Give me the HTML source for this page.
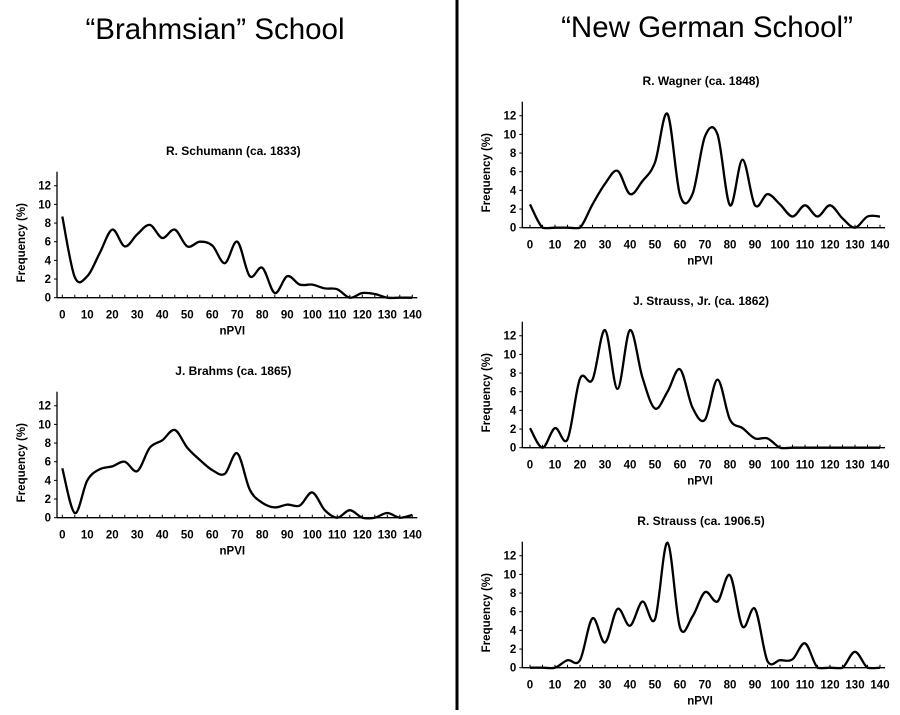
<!DOCTYPE html>
<html><head><meta charset="utf-8"><style>
html,body{margin:0;padding:0;background:#fff;}
svg text{font-family:"Liberation Sans",Arial,sans-serif;fill:#000;}
</style></head><body>
<svg id="s" width="900" height="710" xmlns="http://www.w3.org/2000/svg">
<rect width="900" height="710" fill="#fff"/>
<line x1="457" y1="0" x2="457" y2="710" stroke="#000" stroke-width="3"/>
<text x="215" y="39" font-size="29.5" text-anchor="middle">“Brahmsian” School</text>
<text x="707" y="37" font-size="29.5" text-anchor="middle">“New German School”</text>
</svg>
<script>
const svg=document.getElementById('s');
const NS='http://www.w3.org/2000/svg';
function el(t,a,txt){const e=document.createElementNS(NS,t);for(const k in a)e.setAttribute(k,a[k]);if(txt!==undefined)e.textContent=txt;svg.appendChild(e);return e;}
function chart(ax,x0,zy,title,ty,ylx,data){
  const sx=2.5, sy=9.33;
  const X=v=>x0+v*sx, Y=v=>zy-v*sy;
  el('text',{x:X(70)-4,y:ty,'font-size':12,'font-weight':'bold','text-anchor':'middle'},title);
  el('line',{x1:ax,y1:zy-126,x2:ax,y2:zy,stroke:'#000','stroke-width':1.3});
  el('line',{x1:ax,y1:zy,x2:X(142),y2:zy,stroke:'#000','stroke-width':1.3});
  for(let v=0;v<=12;v+=2){
    el('line',{x1:ax-3,y1:Y(v),x2:ax,y2:Y(v),stroke:'#000','stroke-width':1});
    el('text',{x:ax-6,y:Y(v)+4,'font-size':11.5,'font-weight':'bold','text-anchor':'end'},v);
  }
  for(let v=0;v<=140;v+=5){
    el('line',{x1:X(v),y1:zy,x2:X(v),y2:zy-3,stroke:'#000','stroke-width':1});
  }
  for(let v=0;v<=140;v+=10){
    el('text',{x:X(v),y:zy+21,'font-size':11.5,'font-weight':'bold','text-anchor':'middle'},v);
  }
  el('text',{x:X(70)-5,y:zy+37,'font-size':11.5,'font-weight':'bold','text-anchor':'middle'},'nPVI');
  el('text',{x:ylx,y:zy-55,'font-size':11.5,'font-weight':'bold','text-anchor':'middle',transform:`rotate(-90 ${ylx} ${zy-55})`},'Frequency (%)');
  const p=data.map((v,i)=>[X(i*5),Y(v)]);
  let d=`M${p[0][0]},${p[0][1]}`;
  for(let i=0;i<p.length-1;i++){
    const a=p[Math.max(i-1,0)],b=p[i],c=p[i+1],e=p[Math.min(i+2,p.length-1)];
    const c1=[b[0]+(c[0]-a[0])/6,b[1]+(c[1]-a[1])/6],c2=[c[0]-(e[0]-b[0])/6,c[1]-(e[1]-b[1])/6];
    d+=` C${c1[0].toFixed(1)},${Math.min(c1[1],zy+1).toFixed(1)} ${c2[0].toFixed(1)},${Math.min(c2[1],zy+1).toFixed(1)} ${c[0].toFixed(1)},${c[1].toFixed(1)}`;
  }
  el('path',{d:d,fill:'none',stroke:'#000','stroke-width':2.3,'stroke-linejoin':'round'});
}
chart(57,62.3,297.7,'R. Schumann (ca. 1833)',155,25,
[8.7,2.2,2.3,4.8,7.3,5.5,6.8,7.8,6.4,7.3,5.5,6.0,5.6,3.7,6.0,2.3,3.2,0.5,2.3,1.4,1.4,1.0,0.9,0,0.5,0.4,0,0,0]);
chart(57,62.3,517.7,'J. Brahms (ca. 1865)',375,25,
[5.3,0.5,4,5.2,5.5,6,5,7.5,8.3,9.4,7.5,6.2,5.1,4.7,6.9,3,1.6,1.1,1.4,1.3,2.7,0.8,0,0.8,0,0,0.5,0,0.3]);
chart(522.3,530,227.7,'R. Wagner (ca. 1848)',85,490,
[2.5,0,0,0,0,2.5,4.7,6.1,3.6,5.0,7.0,12.2,3.5,3.6,9.8,10.0,2.4,7.3,2.4,3.6,2.5,1.2,2.4,1.2,2.4,1.0,0,1.2,1.2]);
chart(522.3,530,447.7,'J. Strauss, Jr. (ca. 1862)',305,490,
[2.1,0,2.1,0.9,7.4,7.3,12.6,6.3,12.6,7.5,4.2,6.0,8.4,4.3,3.0,7.3,3.0,2.1,1.0,1.0,0,0,0,0,0,0,0,0,0]);
chart(522.3,530,667.7,'R. Strauss (ca. 1906.5)',525,490,
[0,0,0,0.8,0.8,5.3,2.7,6.3,4.5,7.1,5.2,13.4,4.3,5.5,8.1,7.1,9.9,4.4,6.3,0.7,0.8,0.9,2.6,0,0,0,1.7,0,0]);
</script>
</body></html>
